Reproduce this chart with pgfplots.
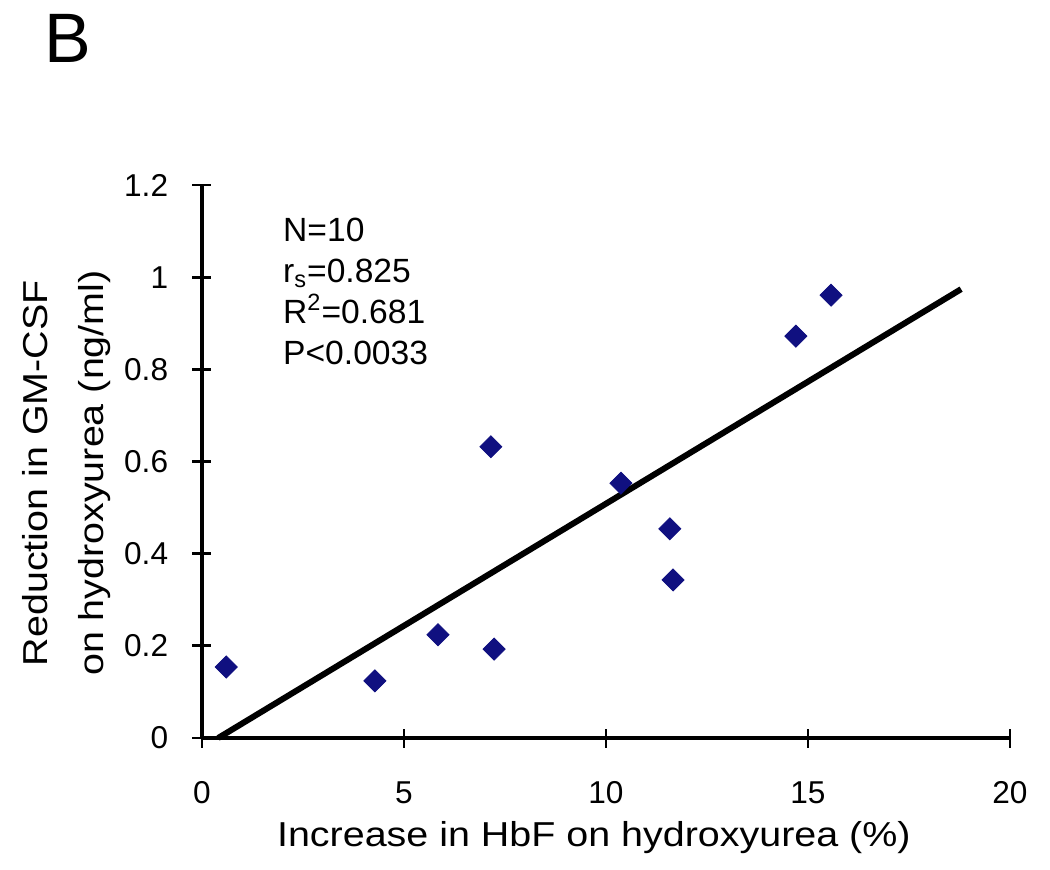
\documentclass[border=0pt]{standalone}
\usepackage{fontspec}
\setmainfont{Liberation Sans}
\newfontfamily\labelfont{Liberation Sans}[FakeStretch=1.14]
\usepackage{pgfplots}
\pgfplotsset{compat=1.18}
\definecolor{navy}{RGB}{16,16,128}
\begin{document}
\begin{tikzpicture}[x=1pt,y=1pt]
\useasboundingbox (-101,-65.5) rectangle (424,369);
\node[anchor=base west, inner sep=0pt, font=\fontsize{35}{42}\selectfont] at (-78.7,337.5) {B};
\begin{axis}[
  at={(0,0)}, anchor=south west,
  scale only axis, width=404pt, height=276.5pt,
  xmin=0, xmax=20, ymin=0, ymax=1.2,
  axis x line=bottom, axis y line=left,
  axis line style={-, line width=1.6pt, black},
  xtick={0,5,10,15,20}, ytick={0,0.2,0.4,0.6,0.8,1,1.2},
  minor tick num=0,
  tick align=center, major tick length=9.5pt,
  every tick/.style={line width=1.4pt, black},
  clip=false,
  /pgf/number format/assume math mode=true,
  ticklabel style={font=\fontsize{15.8}{19}\selectfont},
  yticklabel style={/pgf/number format/fixed, anchor=east, inner sep=0pt, xshift=-12pt},
  xticklabel style={anchor=north, inner sep=0pt, yshift=-17pt},
  xlabel={Increase in HbF on hydroxyurea (\%)},
  xlabel style={at={(axis description cs:0.485,-0.197)}, anchor=base, inner sep=0pt, font=\labelfont\fontsize{17.3}{20}\selectfont},
  ylabel={Reduction in GM-CSF\\on hydroxyurea (ng/ml)},
  ylabel style={at={(axis description cs:-0.168,0.479)}, anchor=center, align=center, font=\labelfont\fontsize{17.3}{28}\selectfont},
]
\addplot[only marks, mark=square*, mark size=3.9pt, mark options={rotate=45, fill=navy, draw=navy}]
coordinates {
(0.6,0.154) (4.28,0.124) (5.84,0.224) (7.15,0.632) (7.23,0.193)
(10.37,0.553) (11.58,0.454) (11.66,0.343) (14.70,0.872) (15.57,0.961)
};
\addplot[black, line width=3pt, no marks] coordinates {(0.40,0) (18.79,0.974)};
\node[anchor=north west, inner sep=0pt, align=left, font=\fontsize{16.8}{20.5}\selectfont]
  at (axis cs:2.0,1.13) {N=10\\r\textsubscript{s}=0.825\\R\textsuperscript{2}=0.681\\P<0.0033};
\end{axis}
\end{tikzpicture}
\end{document}
